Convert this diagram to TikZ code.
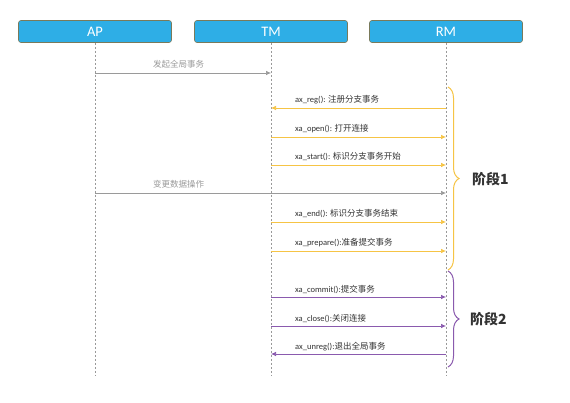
\documentclass[tikz,border=0pt]{standalone}
\usepackage{fontspec}
\setmainfont{Carlito}
\newfontfamily\cjk{Noto Sans CJK SC}
\usetikzlibrary{arrows.meta,decorations.pathreplacing,calc}
\definecolor{boxblue}{HTML}{2EAEE6}
\definecolor{boxedge}{HTML}{7A7A5A}
\definecolor{ylw}{HTML}{F6C445}
\definecolor{ppl}{HTML}{8A5AAE}
\definecolor{gry}{HTML}{9A9A9A}
\definecolor{txt}{HTML}{333333}
\begin{document}
\begin{tikzpicture}[x=1pt,y=-1pt,
  actor/.style={draw=boxedge, line width=0.6pt, fill=boxblue, rounded corners=2.5pt,
    minimum width=153pt, minimum height=22pt, inner sep=0pt, text=white,
    font=\fontsize{14.5}{15}\selectfont},
  life/.style={draw=gray!80, dash pattern=on 2pt off 2pt, line width=0.4pt},
  msg/.style={line width=0.7pt, -{Latex[length=5pt,width=4.5pt]}},
  lbl/.style={font=\fontsize{8.5}{10}\selectfont, text=txt, anchor=base west, inner sep=0pt},
  glbl/.style={font=\cjk\fontsize{8.5}{10}\selectfont, text=gry, anchor=base west, inner sep=0pt},
  phase/.style={font=\cjk\bfseries\fontsize{14}{15}\selectfont, text=txt, anchor=west, inner sep=0pt},
  brc/.style={decorate, decoration={brace, amplitude=11pt}, line width=1pt}
]
\useasboundingbox (0,0) rectangle (570,403);
\fill[white] (0,0) rectangle (570,403);

\node[actor] (ap) at (95,31.5) {AP};
\node[actor] (tm) at (271,31.5) {TM};
\node[actor] (rm) at (446,31.5) {RM};

\coordinate (bottom) at (0,375);
\draw[life] (ap.south) -- (ap.south |- bottom);
\draw[life] (tm.south) -- (tm.south |- bottom);
\draw[life] (rm.south) -- (rm.south |- bottom);

% message rows
\coordinate (m1) at (0,73);
\coordinate (m2) at (0,108);
\coordinate (m3) at (0,137);
\coordinate (m4) at (0,165);
\coordinate (m5) at (0,193);
\coordinate (m6) at (0,222);
\coordinate (m7) at (0,251);
\coordinate (m8) at (0,297);
\coordinate (m9) at (0,326);
\coordinate (m10) at (0,354);

\draw[msg, gry] (ap |- m1) -- (tm |- m1);
\node[glbl] (l1) at ($(ap |- m1)+(58,-5)$) {发起全局事务};

\draw[msg, ylw] (rm |- m2) -- (tm |- m2);
\node[lbl] (l2) at ($(tm |- m2)+(24,-5)$) {ax\_reg(): {\cjk 注册分支事务}};

\draw[msg, ylw] (tm |- m3) -- (rm |- m3);
\node[lbl] (l3) at ($(tm |- m3)+(24,-5)$) {xa\_open(): {\cjk 打开连接}};

\draw[msg, ylw] (tm |- m4) -- (rm |- m4);
\node[lbl] (l4) at ($(tm |- m4)+(24,-5)$) {xa\_start(): {\cjk 标识分支事务开始}};

\draw[msg, gry] (ap |- m5) -- (rm |- m5);
\node[glbl] (l5) at ($(ap |- m5)+(58,-5)$) {变更数据操作};

\draw[msg, ylw] (tm |- m6) -- (rm |- m6);
\node[lbl] (l6) at ($(tm |- m6)+(24,-5)$) {xa\_end(): {\cjk 标识分支事务结束}};

\draw[msg, ylw] (tm |- m7) -- (rm |- m7);
\node[lbl] (l7) at ($(tm |- m7)+(24,-5)$) {xa\_prepare():{\cjk 准备提交事务}};

\draw[msg, ppl] (tm |- m8) -- (rm |- m8);
\node[lbl] (l8) at ($(tm |- m8)+(24,-5)$) {xa\_commit():{\cjk 提交事务}};

\draw[msg, ppl] (tm |- m9) -- (rm |- m9);
\node[lbl] (l9) at ($(tm |- m9)+(24,-5)$) {xa\_close():{\cjk 关闭连接}};

\draw[msg, ppl] (rm |- m10) -- (tm |- m10);
\node[lbl] (l10) at ($(tm |- m10)+(24,-5)$) {ax\_unreg():{\cjk 退出全局事务}};

% phase braces
\coordinate (b1t) at (448,87);
\coordinate (b1b) at (448,270);
\coordinate (b2t) at (448,271);
\coordinate (b2b) at (448,367);
\draw[brc, ylw] (b1t) -- (b1b);
\draw[brc, ppl] (b2t) -- (b2b);
\node[phase] (p1) at (472,179) {阶段1};
\node[phase] (p2) at (470,319) {阶段2};
\end{tikzpicture}
\end{document}
